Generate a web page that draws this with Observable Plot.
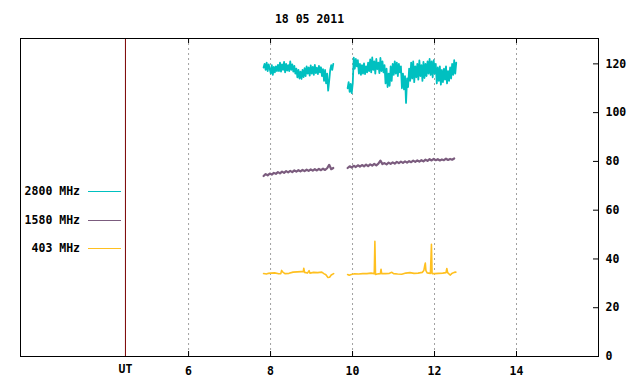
<!DOCTYPE html>
<html>
<head>
<meta charset="utf-8">
<script src="https://cdn.jsdelivr.net/npm/d3@7"></script>
<script src="https://cdn.jsdelivr.net/npm/@observablehq/plot@0.6"></script>
<style>
  html, body { margin: 0; padding: 0; background: #fff; }
  #wrap { position: relative; width: 640px; height: 384px; font-family: "DejaVu Sans Mono", monospace; font-weight: bold; font-size: 11.5px; }
  .lg-text { position: absolute; right: 560px; white-space: pre; line-height: 12px; }
  .lg-line { position: absolute; left: 88px; width: 33px; height: 1px; }
</style>
</head>
<body>
<div id="wrap"></div>
<script>
// ---- data ----
const title = "18 05 2011";
const xTicks = [6, 8, 10, 12, 14];
const yTicks = [0, 20, 40, 60, 80, 100, 120];
const utPos = 4.46;
const utLabel = "UT";

const seriesNames = ["2800 MHz", "1580 MHz", "403 MHz"];
const seriesColors = ["#00c0c0", "#7b5c7e", "#ffc020"];

// 2800 MHz, two segments sampled every 0.025 h
const step2800 = 0.025;
const start2800a = 7.83;
const f2800a = [118.5,120,117.5,120.5,117,119.8,118,
  116,119.5,115.5,118.8,116.5,119,117,119.6,
  117,120.5,116.8,119.8,117.5,120.8,116.5,120,117.2,119.5,117,121,117.5,119.8,116.8,119.2,116,
  118,114.5,117.5,114,116.8,113.8,117.5,114.6,118.2,
  115,119,116,118.5,115.2,119.4,116,118.8,115.5,119.6,116.2,118.4,115.8,119.2,116.5,118.6,115,117.8,
  113,117.5,112,116,109,113,117.5,
  119.5,117.5,120];
const start2800b = 9.88;
const f2800b = [110,112.5,108.5,111.8,108,112,
  122.5,
  118,122,119,121.5,116,120,115.5,119.5,116,120.2,115.8,119,116.5,120.5,
  117,121.8,116.5,122.6,117.5,121,116,122,117.8,120.5,116.2,122.4,117,121,116.5,
  119.5,112,118,110.5,116,111,119,113,120,
  115.5,121,116,120.5,115,120,116.5,119,
  110,116,109.5,115,104,114,110.5,
  118,113,120.5,114,121,112.5,119,114.5,120,113.5,121.4,115,119.5,113,120.8,114.2,120,115,121,
  116,122,115.5,121,114.5,121.5,116,120,
  112,118.5,113,119,111.5,117.5,112.5,118,113.5,119,112,117,113,118.5,114,
  120,115.5,121.5,116,120.5];

// 1580 MHz, two segments sampled every 0.05 h
const step1580 = 0.05;
const start1580a = 7.83;
const f1580a = [74.0,74.8,74.3,75.0,74.6,75.3,74.9,75.6,75.1,75.8,75.3,76.0,75.5,76.1,75.6,76.3,75.8,76.4,75.9,76.5,76.0,76.6,76.1,76.7,76.2,76.8,76.3,76.9,76.4,77.0,76.5,77.2,78.6,76.8,77.3];
const start1580b = 9.88;
const f1580b = [77.3,78.0,77.5,78.2,77.7,78.4,77.9,78.5,78.0,78.7,78.1,78.8,78.3,79.0,78.4,79.1,80.3,78.9,79.3,78.8,79.5,79.0,79.6,79.1,79.8,79.3,79.9,79.4,80.0,79.5,80.1,79.7,80.3,79.8,80.4,79.9,80.5,80.0,80.7,80.2,80.9,80.4,81.0,80.5,80.9,80.4,80.8,80.5,81.1,80.6,81.0,80.7,81.2];

// 403 MHz, irregular samples [hour, value]
const f403a = [[7.83,34.0],[7.9,33.8],[7.95,34.1],[8.0,34.2],[8.1,34.3],[8.2,33.9],[8.25,34.0],[8.27,35.3],[8.3,34.6],[8.35,34.0],[8.45,34.1],[8.55,34.6],[8.65,34.7],[8.75,34.8],[8.8,34.8],[8.81,36.2],[8.83,34.5],[8.9,34.2],[8.94,35.2],[8.96,34.2],[9.05,34.5],[9.15,34.4],[9.25,34.6],[9.3,34.0],[9.35,33.5],[9.4,32.4],[9.44,32.5],[9.48,33.4],[9.54,34.0]];
const f403b = [[9.88,33.6],[9.92,33.3],[9.97,33.6],[10.05,33.9],[10.15,33.8],[10.25,34.0],[10.35,34.0],[10.45,34.2],[10.53,34.0],[10.545,47.2],[10.56,33.6],[10.6,33.8],[10.68,34.0],[10.695,35.8],[10.71,34.0],[10.8,34.0],[10.9,34.1],[10.96,34.5],[11.0,34.0],[11.1,33.8],[11.2,33.7],[11.3,34.2],[11.4,34.4],[11.5,34.1],[11.6,34.2],[11.7,34.5],[11.74,35.3],[11.76,37.2],[11.775,38.3],[11.79,35.2],[11.82,34.3],[11.9,34.1],[11.925,46.0],[11.94,34.0],[12.0,34.0],[12.1,34.1],[12.2,34.2],[12.28,34.4],[12.3,36.1],[12.32,34.4],[12.38,33.4],[12.42,34.0],[12.48,34.5],[12.52,34.6]];

// ---- build table ----
function regular(vals, start, step, series, seg) {
  return vals.map((v, i) => ({t: start + i * step, v, series, seg}));
}
function pairs(arr, series, seg) {
  return arr.map(([t, v]) => ({t, v, series, seg}));
}
const rows2800 = [
  ...regular(f2800a, start2800a, step2800, seriesNames[0], "a"),
  ...regular(f2800b, start2800b, step2800, seriesNames[0], "b")];
const rows1580 = [
  ...regular(f1580a, start1580a, step1580, seriesNames[1], "a"),
  ...regular(f1580b, start1580b, step1580, seriesNames[1], "b")];
const rows403 = [
  ...pairs(f403a, seriesNames[2], "a"),
  ...pairs(f403b, seriesNames[2], "b")];

const W = 640, H = 384, mT = 38, mB = 28, mL = 20, mR = 42;
const innerW = W - mL - mR, innerH = H - mT - mB, tick = 5;

const chart = Plot.plot({
  width: W, height: H,
  marginTop: mT, marginBottom: mB, marginLeft: mL, marginRight: mR,
  style: {fontFamily: "DejaVu Sans Mono", fontSize: "11.5px", fontWeight: "bold", background: "white", color: "black", overflow: "visible"},
  x: {domain: [1.9, 16]},
  y: {domain: [0, 130.4]},
  color: {domain: seriesNames, range: seriesColors},
  marks: [
    Plot.ruleX(xTicks, {stroke: "#a0a0a0", strokeDasharray: "2,3"}),
    Plot.ruleX([utPos], {stroke: "#7a0000"}),
    Plot.line(rows2800, {x: "t", y: "v", z: "seg", stroke: "series", strokeWidth: 1.8}),
    Plot.line(rows1580, {x: "t", y: "v", z: "seg", stroke: "series", strokeWidth: 2.2}),
    Plot.line(rows403, {x: "t", y: "v", z: "seg", stroke: "series", strokeWidth: 1.6}),
    Plot.frame({stroke: "black"}),
    Plot.ruleX(xTicks, {stroke: "black", insetTop: innerH - tick}),
    Plot.ruleX(xTicks, {stroke: "black", insetBottom: innerH - tick}),
    Plot.ruleY(yTicks, {stroke: "black", insetLeft: innerW - tick}),
    Plot.axisX(xTicks, {anchor: "bottom", tickSize: 0, tickPadding: 10, label: null, tickFormat: d => String(d)}),
    Plot.text([utLabel], {x: [utPos], frameAnchor: "bottom", lineAnchor: "top", dy: 8}),
    Plot.axisY(yTicks, {anchor: "right", tickSize: 0, tickPadding: 7, label: null, tickFormat: d => String(d)}),
    Plot.text([title], {frameAnchor: "top", lineAnchor: "middle", dy: -19})
  ]
});

const wrap = document.getElementById("wrap");
wrap.appendChild(chart);

// legend overlay
const legendOrder = [0, 1, 2];
legendOrder.forEach((k, i) => {
  const yc = 191 + i * 28.6;
  const tx = document.createElement("div");
  tx.className = "lg-text";
  tx.textContent = seriesNames[k];
  tx.style.top = (yc - 6) + "px";
  wrap.appendChild(tx);
  const ln = document.createElement("div");
  ln.className = "lg-line";
  ln.style.top = Math.round(yc) + "px";
  ln.style.background = seriesColors[k];
  wrap.appendChild(ln);
});
</script>
</body>
</html>
